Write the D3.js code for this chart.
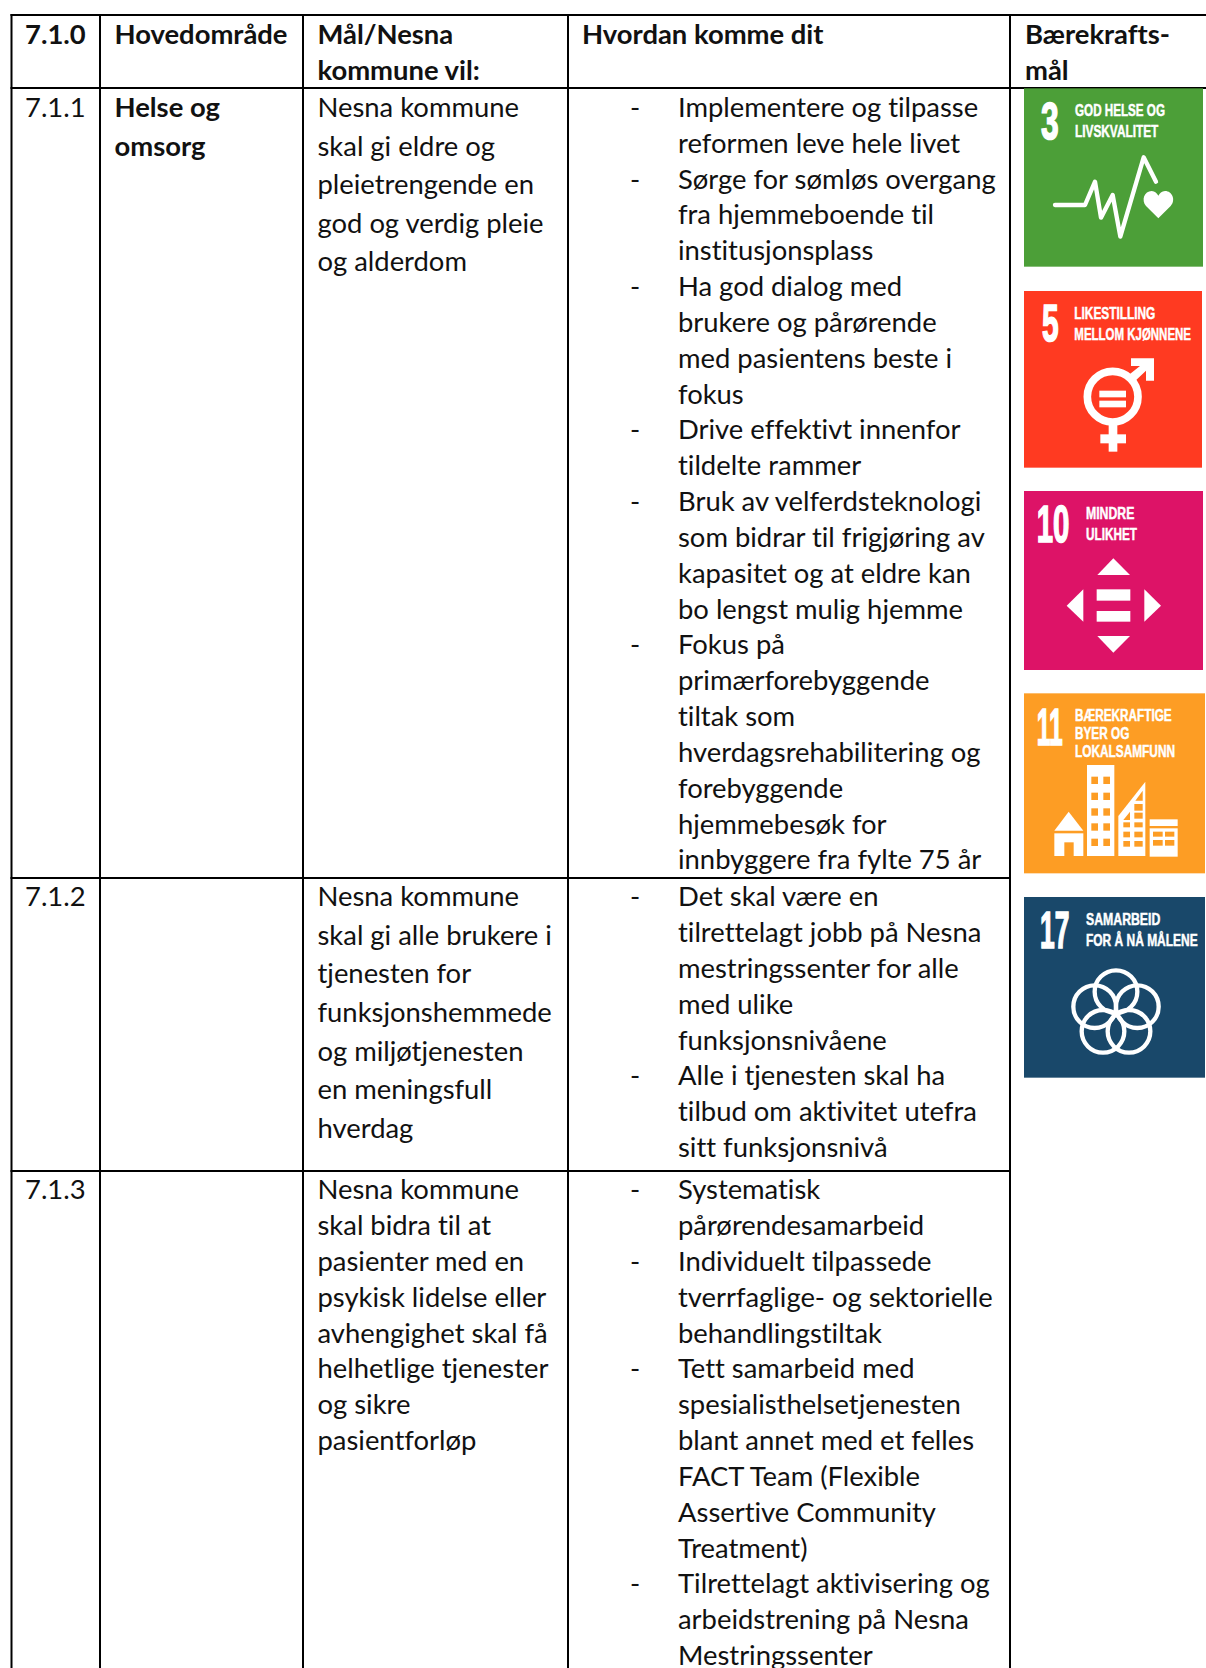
<!DOCTYPE html>
<html>
<head>
<meta charset="utf-8">
<script src="https://cdnjs.cloudflare.com/ajax/libs/d3/7.8.5/d3.min.js"></script>
<style>
    html, body { margin: 0; padding: 0; background: #fff; }
    svg { display: block; }
    text { font-variant-ligatures: none; }
</style>
</head>
<body>
<div id="chart"></div>
<script>
/* Table content */
var headers = [["7.1.0"], ["Hovedområde"], ["Mål/Nesna", "kommune vil:"], ["Hvordan komme dit"], ["Bærekrafts-", "mål"]];
var rowNumbers = ["7.1.1", "7.1.2", "7.1.3"];
var areaLines = ["Helse og", "omsorg"];
var goalLines = [
    ["Nesna kommune", "skal gi eldre og", "pleietrengende en", "god og verdig pleie", "og alderdom"],
    ["Nesna kommune", "skal gi alle brukere i", "tjenesten for", "funksjonshemmede", "og miljøtjenesten", "en meningsfull", "hverdag"],
    ["Nesna kommune", "skal bidra til at", "pasienter med en", "psykisk lidelse eller", "avhengighet skal få", "helhetlige tjenester", "og sikre", "pasientforløp"]
];
var actions = [
    [
        ["Implementere og tilpasse", "reformen leve hele livet"],
        ["Sørge for sømløs overgang", "fra hjemmeboende til", "institusjonsplass"],
        ["Ha god dialog med", "brukere og pårørende", "med pasientens beste i", "fokus"],
        ["Drive effektivt innenfor", "tildelte rammer"],
        ["Bruk av velferdsteknologi", "som bidrar til frigjøring av", "kapasitet og at eldre kan", "bo lengst mulig hjemme"],
        ["Fokus på", "primærforebyggende", "tiltak som", "hverdagsrehabilitering og", "forebyggende", "hjemmebesøk for", "innbyggere fra fylte 75 år"]
    ],
    [
        ["Det skal være en", "tilrettelagt jobb på Nesna", "mestringssenter for alle", "med ulike", "funksjonsnivåene"],
        ["Alle i tjenesten skal ha", "tilbud om aktivitet utefra", "sitt funksjonsnivå"]
    ],
    [
        ["Systematisk", "pårørendesamarbeid"],
        ["Individuelt tilpassede", "tverrfaglige- og sektorielle", "behandlingstiltak"],
        ["Tett samarbeid med", "spesialisthelsetjenesten", "blant annet med et felles", "FACT Team (Flexible", "Assertive Community", "Treatment)"],
        ["Tilrettelagt aktivisering og", "arbeidstrening på Nesna", "Mestringssenter"]
    ]
];

/* SDG tiles */
var sdgNumbers = ["3", "5", "10", "11", "17"];
var sdgLabels = [
    ["GOD HELSE OG", "LIVSKVALITET"],
    ["LIKESTILLING", "MELLOM KJØNNENE"],
    ["MINDRE", "ULIKHET"],
    ["BÆREKRAFTIGE", "BYER OG", "LOKALSAMFUNN"],
    ["SAMARBEID", "FOR Å NÅ MÅLENE"]
];
var sdgColors = ["#4c9f38", "#ff3a21", "#dd1367", "#fd9d24", "#19486a"];

/* Overall SVG Container */
var width = 1206,
    height = 1668,
    fontFamily = "Lato, 'Noto Sans', sans-serif",
    fontSize = 27,
    lineStep = 35.83,
    textScale = 1.015,
    boldScale = 1.015;

var svg = d3.select("#chart")
    .append("svg")
    .attr("width", width)
    .attr("height", height);

/* Column and row positions */
var colLines = [11.5, 100, 303, 568, 1010];
var rowLines = [15, 88, 878, 1171];
var colX = d3.scaleOrdinal([0, 1, 2, 3, 4], [25, 114.5, 317.5, 582, 1025]);
var dashX = 630, actionX = 678;
var rowBase = [117, 906.2, 1199.3];
var goalStep = [38.5, 38.6, 35.83];

function addText(parent, str, x, y, bold) {
    return parent.append("text")
        .attr("transform", "translate(" + x + "," + y + ") scale(" + (bold ? boldScale : textScale) + ",1)")
        .attr("font-family", fontFamily)
        .attr("font-size", fontSize)
        .attr("font-weight", bold ? 700 : 400)
        .attr("fill", "#111")
        .text(str);
}

/* Draw grid */
var grid = svg.append("g").attr("stroke", "#000").attr("stroke-width", 2);
colLines.forEach(function(x) {
    grid.append("line").attr("x1", x).attr("x2", x).attr("y1", 14).attr("y2", height);
});
rowLines.forEach(function(y, i) {
    grid.append("line").attr("x1", 10.5).attr("x2", i < 2 ? width : 1011).attr("y1", y).attr("y2", y);
});

/* Header */
var body = svg.append("g");
headers.forEach(function(lines, c) {
    lines.forEach(function(str, i) {
        addText(body, str, colX(c), 43.7 + i * 36, true);
    });
});

/* Rows */
rowNumbers.forEach(function(str, r) {
    addText(body, str, colX(0), rowBase[r], false);
});
areaLines.forEach(function(str, i) {
    addText(body, str, colX(1), rowBase[0] + i * goalStep[0], true);
});
goalLines.forEach(function(lines, r) {
    var y = d3.scaleLinear().domain([0, 1]).range([rowBase[r], rowBase[r] + goalStep[r]]);
    lines.forEach(function(str, i) {
        addText(body, str, colX(2), y(i), false);
    });
});
actions.forEach(function(items, r) {
    var y = d3.scaleLinear().domain([0, 1]).range([rowBase[r], rowBase[r] + lineStep]);
    var n = 0;
    items.forEach(function(lines) {
        addText(body, "-", dashX, y(n), false);
        lines.forEach(function(str) {
            addText(body, str, actionX, y(n), false);
            n++;
        });
    });
});

/* SDG tiles: pictograms are drawn in 3x crop units, so group scale is 1/3 */
var tileLeft = 1006;
var tileTop = [0, 280, 280, 680, 680];
var tileBox = [[54, 265, 591, 800], [54, 33, 588, 563], [54, 633, 591, 1170], [54, 40, 597, 580], [54, 651, 597, 1193]];
var numberBox = [[105, 310, 158, 418], [108, 78, 158, 185], [92, 678, 190, 788], [92, 85, 170, 195], [102, 695, 190, 805]];
var labelBox = [
    [[207, 348, 477], [207, 410, 457]],
    [[205, 118, 448], [205, 180, 555]],
    [[240, 716, 385], [240, 780, 393]],
    [[207, 122, 497], [207, 177, 370], [207, 232, 507]],
    [[240, 735, 463], [240, 798, 575]]
];

var tiles = svg.selectAll("g.tile")
    .data(sdgNumbers)
    .enter().append("g")
    .attr("class", "tile")
    .attr("transform", function(d, i) { return "translate(" + tileLeft + "," + tileTop[i] + ") scale(" + (1 / 3) + ")"; });

tiles.append("rect")
    .attr("x", function(d, i) { return tileBox[i][0]; })
    .attr("y", function(d, i) { return tileBox[i][1]; })
    .attr("width", function(d, i) { return tileBox[i][2] - tileBox[i][0]; })
    .attr("height", function(d, i) { return tileBox[i][3] - tileBox[i][1]; })
    .attr("fill", function(d, i) { return sdgColors[i]; });

tiles.append("text")
    .attr("x", function(d, i) { return numberBox[i][0]; })
    .attr("y", function(d, i) { return numberBox[i][3] - 1; })
    .attr("font-family", "'Liberation Sans Narrow', 'Liberation Sans', sans-serif")
    .attr("font-weight", 700)
    .attr("font-size", function(d, i) { return (numberBox[i][3] - numberBox[i][1]) / 0.7; })
    .attr("textLength", function(d, i) { return numberBox[i][2] - numberBox[i][0]; })
    .attr("lengthAdjust", "spacingAndGlyphs")
    .attr("fill", "#fff")
    .attr("stroke", "#fff")
    .attr("stroke-width", 5)
    .text(function(d) { return d; });

tiles.each(function(d, i) {
    var g = d3.select(this);
    sdgLabels[i].forEach(function(str, k) {
        var b = labelBox[i][k];
        g.append("text")
            .attr("x", b[0])
            .attr("y", b[1])
            .attr("font-family", "'Liberation Sans Narrow', 'Liberation Sans', sans-serif")
            .attr("font-weight", 700)
            .attr("font-size", 52)
            .attr("textLength", b[2] - b[0])
            .attr("lengthAdjust", "spacingAndGlyphs")
            .attr("fill", "#fff")
            .attr("stroke", "#fff")
            .attr("stroke-width", 1.5)
            .text(str);
    });
});

function poly(g, pts, fill) {
    g.append("polygon").attr("points", pts.join(" ")).attr("fill", fill || "#fff");
}
function box(g, x0, y0, x1, y1, fill) {
    g.append("rect").attr("x", x0).attr("y", y0).attr("width", x1 - x0).attr("height", y1 - y0).attr("fill", fill || "#fff");
}

/* Goal 3: pulse and heart */
var g3 = d3.select(tiles.nodes()[0]);
g3.append("path")
    .attr("d", d3.line()([[147, 615], [237, 615], [267, 545], [285, 653], [320, 585], [343, 710], [413, 472], [450, 545]]))
    .attr("fill", "none").attr("stroke", "#fff").attr("stroke-width", 13)
    .attr("stroke-linecap", "round").attr("stroke-linejoin", "round");
g3.append("path")
    .attr("d", "M457,655 L420,618 C405,600 415,573 437,573 C447,573 453,580 457,587 C461,580 467,573 477,573 C499,573 510,600 494,618 Z")
    .attr("fill", "#fff");

/* Goal 5: gender symbol */
var g5 = d3.select(tiles.nodes()[1]);
g5.append("circle").attr("cx", 320).attr("cy", 350).attr("r", 76)
    .attr("fill", "none").attr("stroke", "#fff").attr("stroke-width", 23);
box(g5, 280, 332, 360, 352);
box(g5, 280, 362, 360, 382);
box(g5, 308, 430, 334, 515);
box(g5, 283, 463, 360, 490);
poly(g5, [[375, 235], [444, 235], [444, 302], [420, 302], [420, 272], [385, 305], [368, 285], [402, 258], [375, 258]]);

/* Goal 10: arrows and equals sign */
var g10 = d3.select(tiles.nodes()[2]);
poly(g10, [[322, 835], [372, 885], [274, 885]]);
poly(g10, [[232, 928], [232, 1025], [182, 977]]);
poly(g10, [[415, 928], [415, 1025], [465, 977]]);
poly(g10, [[274, 1068], [372, 1068], [322, 1118]]);
box(g10, 272, 928, 373, 962);
box(g10, 272, 993, 373, 1025);

/* Goal 11: buildings */
var g11 = d3.select(tiles.nodes()[3]);
var orange = sdgColors[3];
poly(g11, [[145, 452], [232, 452], [188, 395]]);
box(g11, 145, 460, 232, 528);
box(g11, 175, 487, 203, 528, orange);
box(g11, 243, 255, 325, 528);
[290, 338, 385, 430, 476].forEach(function(y) {
    box(g11, 256, y, 276, y + 22, orange);
    box(g11, 292, y, 312, y + 22, orange);
});
poly(g11, [[337, 528], [337, 408], [418, 305], [418, 528]]);
[[352, 372, 427, 442], [385, 410, 427, 442], [352, 372, 455, 472], [385, 410, 455, 472], [352, 372, 483, 500], [385, 410, 483, 500], [385, 410, 372, 392], [385, 410, 398, 416]].forEach(function(w) {
    box(g11, w[0], w[2], w[1], w[3], orange);
});
poly(g11, [[352, 420], [372, 395], [372, 420]], orange);
poly(g11, [[388, 362], [410, 332], [410, 362]], orange);
box(g11, 431, 418, 515, 438);
box(g11, 431, 445, 515, 530);
[[441, 455, 470, 470], [477, 455, 505, 470], [441, 480, 470, 497], [477, 480, 505, 497]].forEach(function(w) {
    box(g11, w[0], w[1], w[2], w[3], orange);
});

/* Goal 17: five rings */
var g17 = d3.select(tiles.nodes()[4]);
[[330, 935], [394, 980], [369, 1054], [291, 1054], [266, 980]].forEach(function(c) {
    g17.append("circle").attr("cx", c[0]).attr("cy", c[1]).attr("r", 64)
        .attr("fill", "none").attr("stroke", "#fff").attr("stroke-width", 13);
});
</script>
</body>
</html>
